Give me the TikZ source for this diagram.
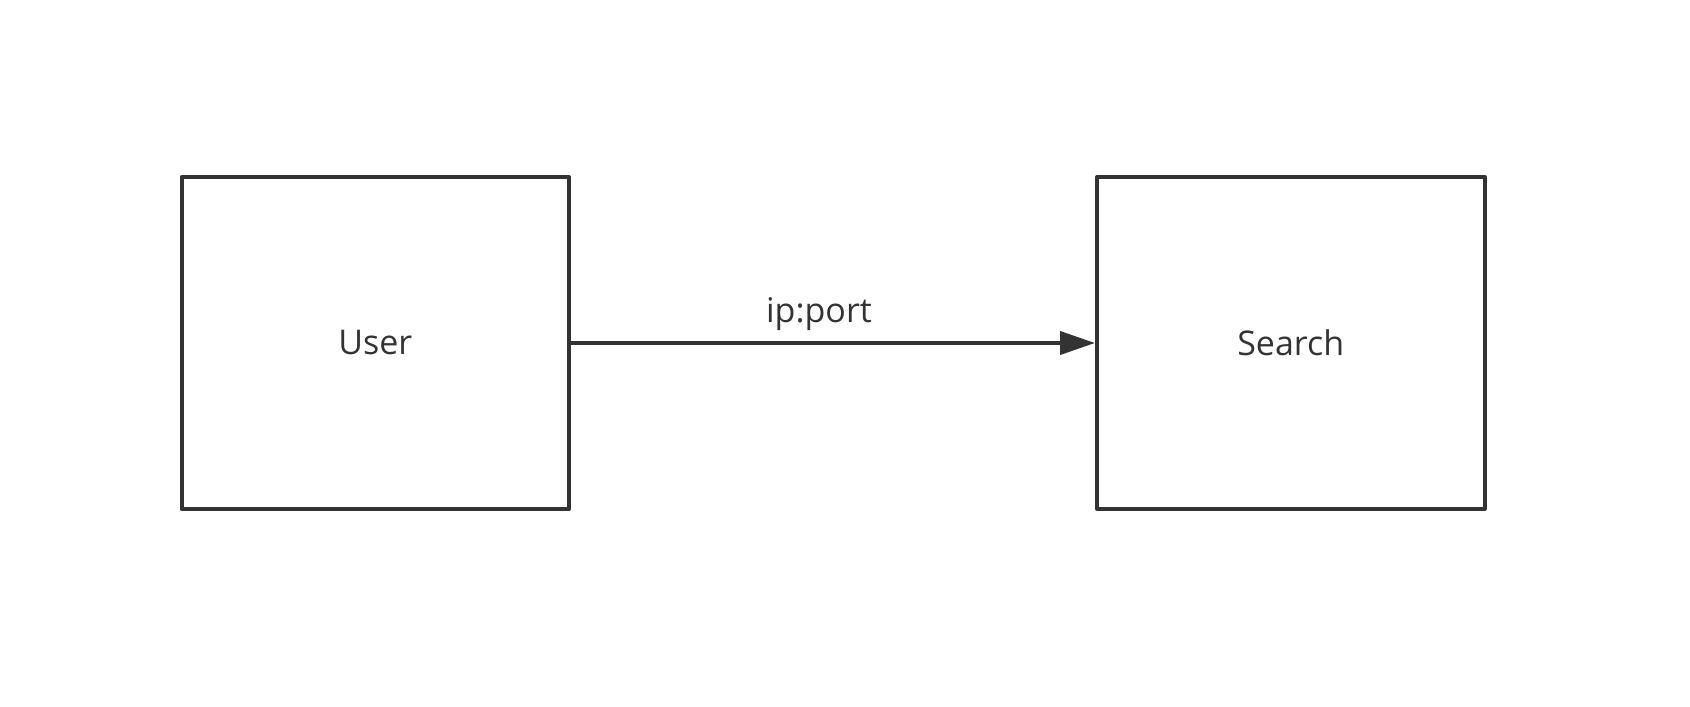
\documentclass[tikz,border=0pt]{standalone}
\usepackage{fontspec}
\setmainfont{Open Sans}
\usetikzlibrary{arrows.meta}
\definecolor{ink}{HTML}{333333}
\begin{document}
\begin{tikzpicture}[x=1pt,y=-1pt,
  box/.style={draw=ink, line width=4pt, line join=round, minimum width=387.5pt, minimum height=332pt, inner sep=0pt, font=\fontsize{34}{40}\selectfont, text=ink},
  lbl/.style={font=\fontsize{34}{40}\selectfont, text=ink, inner sep=0pt},
  conn/.style={draw=ink, line width=4pt, -{Triangle[length=35pt,width=23pt]}}]
\useasboundingbox (0,0) rectangle (1690,707);
\node[box] (user) at (375.25,343) {User};
\node[box] (search) at (1290.75,343) {Search};
\draw[conn] (user.east) -- node[lbl, anchor=base, yshift=21pt, xshift=-14pt] (label) {ip:port} (search.west);
\end{tikzpicture}
\end{document}
